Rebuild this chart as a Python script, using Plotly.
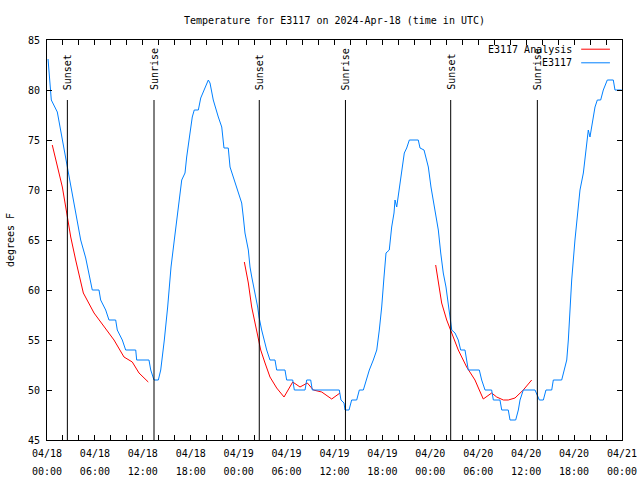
import plotly.graph_objects as go
import pandas as pd

base = pd.Timestamp("2024-04-18 00:00")

# Observed (E3117): hours since 2024-04-18 00:00 UTC, degrees F
obs_hours = [0.13, 0.38, 0.54, 1.29, 1.92, 2.47, 3.17, 3.79, 4.22, 4.85, 5.26, 5.67, 6.51, 6.72,
             7.35, 7.76, 8.60, 8.80, 9.43, 9.85, 11.11, 11.23, 12.77, 12.99, 13.40, 13.94, 14.24,
             14.40, 14.69, 15.11, 15.53, 15.94, 16.37, 16.87, 17.28, 17.49, 17.91, 18.19, 18.44,
             18.95, 19.25, 19.78, 20.20, 20.41, 20.82, 21.45, 21.88, 22.16, 22.70, 22.92, 23.54,
             23.95, 24.38, 24.58, 24.79, 25.21, 25.42, 25.64, 26.05, 26.38, 26.55, 26.88, 27.51,
             27.92, 28.55, 28.76, 29.80, 30.01, 30.77, 30.97, 32.31, 32.52, 33.02, 33.22, 36.60,
             36.81, 37.19, 37.32, 37.82, 38.15, 38.78, 39.11, 39.61, 39.94, 40.36, 40.86, 41.29,
             41.61, 41.91, 42.20, 42.45, 42.86, 43.16, 43.45, 43.58, 43.79, 43.91, 44.20, 44.54,
             44.74, 45.04, 45.37, 46.49, 46.71, 47.21, 47.46, 47.75, 48.08, 48.37, 48.71, 49.00,
             49.30, 49.62, 49.96, 50.30, 50.46, 50.68, 51.09, 51.50, 51.80, 52.34, 52.75, 54.13,
             54.43, 54.85, 55.68, 55.89, 56.72, 56.94, 57.76, 57.98, 58.69, 59.02, 59.23, 59.64,
             61.11, 61.40, 61.65, 62.15, 62.48, 63.20, 63.40, 64.45, 64.74, 65.08, 65.28, 65.49,
             65.70, 66.11, 66.53, 66.74, 67.16, 67.49, 67.78, 67.99, 68.21, 68.62, 68.91, 69.33,
             69.66, 70.16, 70.91, 71.12, 71.96]
obs_temp = [83.1, 80.0, 79.0, 77.8, 75.0, 72.7, 69.3, 66.7, 65.0, 63.2, 61.7, 60.0, 60.0, 59.0,
            58.0, 57.0, 57.0, 56.0, 55.0, 54.0, 54.0, 53.0, 53.0, 52.0, 51.0, 51.0, 52.0,
            53.0, 55.0, 58.3, 62.3, 65.0, 67.7, 71.0, 71.7, 73.3, 75.7, 77.3, 78.0,
            78.0, 79.2, 80.3, 81.0, 80.7, 79.0, 77.3, 76.3, 74.2, 74.2, 72.3, 70.7,
            69.7, 68.7, 67.3, 65.7, 64.0, 62.3, 61.3, 59.7, 58.3, 57.3, 56.0, 54.0,
            53.0, 53.0, 52.0, 52.0, 51.0, 51.0, 50.0, 50.0, 51.0, 51.0, 50.0, 50.0,
            49.0, 48.7, 48.0, 48.0, 49.0, 49.0, 50.0, 50.0, 51.0, 52.0, 53.0, 54.0,
            56.0, 58.3, 61.3, 63.7, 64.0, 66.3, 67.7, 69.0, 68.3, 69.0, 70.7, 72.3,
            73.7, 74.2, 75.0, 75.0, 74.2, 74.0, 73.2, 72.3, 70.3, 69.0, 67.7, 66.0,
            63.7, 61.7, 60.3, 58.3, 57.0, 56.0, 55.7, 55.0, 54.0, 54.0, 52.0, 52.0,
            51.0, 50.0, 50.0, 49.0, 49.0, 48.0, 48.0, 47.0, 47.0, 48.0, 49.0, 50.0,
            50.0, 49.5, 49.0, 49.0, 50.0, 50.0, 51.0, 51.0, 52.0, 53.0, 55.0, 58.0,
            61.0, 65.0, 68.3, 70.0, 71.7, 74.3, 76.0, 75.3, 76.3, 78.3, 79.0, 79.0,
            80.0, 81.0, 81.0, 80.0, 80.0]

# Analysis (E3117 Analysis): three nightly segments, None = gap
ana_hours = [0.66, 1.50, 1.92, 2.47, 2.97, 3.59, 4.55, 5.89, 7.14, 8.39, 9.64, 10.68, 11.52, 12.68,
             None,
             24.71, 25.21, 25.63, 26.26, 26.76, 27.30, 27.92, 28.76, 29.68, 30.77, 31.68, 32.60,
             33.35, 34.40, 35.65, 36.69,
             None,
             48.67, 49.00, 49.42, 50.05, 50.68, 51.50, 52.55, 53.59, 54.13, 54.63, 55.68, 56.31,
             57.14, 57.76, 58.60, 59.64, 60.69]
ana_temp = [74.5, 71.7, 70.3, 67.7, 65.3, 63.0, 59.7, 57.7, 56.3, 55.0, 53.3, 52.8, 51.7, 50.8,
            None,
            62.8, 60.7, 58.3, 55.7, 54.0, 52.7, 51.3, 50.2, 49.3, 50.8, 50.3, 50.7,
            50.0, 49.8, 49.1, 49.7,
            None,
            62.5, 60.7, 58.7, 57.0, 55.7, 54.0, 52.3, 51.0, 50.0, 49.1, 49.7, 49.3,
            49.0, 49.0, 49.2, 50.0, 51.0]

sun_hours = [2.55, 13.40, 26.58, 37.37, 50.55, 61.40]
sun_labels = ["Sunset", "Sunrise", "Sunset", "Sunrise", "Sunset", "Sunrise"]
sun_line_top = 79.0
sun_label_base = 79.8

tick_step_hours = 2
label_every_hours = 6
y_ticks = [45, 50, 55, 60, 65, 70, 75, 80, 85]

title_text = "Temperature for E3117 on 2024-Apr-18 (time in UTC)"
series_names = ["E3117 Analysis", "E3117"]
series_colors = ["#ff0000", "#0080ff"]


def to_time(hours):
    return [None if h is None else base + pd.Timedelta(hours=h) for h in hours]


FONT = "DejaVu Sans Mono"
TF = dict(family=FONT, size=10, color="black")

fig = go.Figure()
fig.add_trace(go.Scatter(x=to_time(ana_hours), y=ana_temp, mode="lines", name=series_names[0],
                         line=dict(color=series_colors[0], width=1), connectgaps=False,
                         showlegend=False))
fig.add_trace(go.Scatter(x=to_time(obs_hours), y=obs_temp, mode="lines", name=series_names[1],
                         line=dict(color=series_colors[1], width=1), showlegend=False))

# Sunrise / sunset markers
for h, lab in zip(sun_hours, sun_labels):
    t = base + pd.Timedelta(hours=h)
    fig.add_shape(type="line", x0=t, x1=t, y0=45, y1=sun_line_top, xref="x", yref="y",
                  line=dict(color="black", width=1))
    fig.add_annotation(x=t, y=sun_label_base, xref="x", yref="y", text=lab, textangle=-90,
                       showarrow=False, xanchor="center", yanchor="bottom", font=TF)

# Ticks: every 2 h, labels every 6 h (date line on x, time line on x2)
tickvals, date_text, time_text = [], [], []
for k in range(0, 72 + 1, tick_step_hours):
    t = base + pd.Timedelta(hours=k)
    tickvals.append(t)
    lab = k % label_every_hours == 0
    date_text.append(t.strftime("%m/%d") if lab else "")
    time_text.append(t.strftime("%H:%M") if lab else "")

# Legend (gnuplot style: text left, sample right)
legend_rows = [0.977, 0.943]
for name, col, yy in zip(series_names, series_colors, legend_rows):
    fig.add_annotation(x=0.9165, y=yy, xref="paper", yref="paper", text=name, showarrow=False,
                       xanchor="right", yanchor="middle", font=TF)
    fig.add_shape(type="line", x0=0.929, x1=0.979, y0=yy, y1=yy, xref="paper", yref="paper",
                  line=dict(color=col, width=1))

fig.update_layout(
    width=640, height=480,
    margin=dict(l=47, r=18, t=40, b=40, autoexpand=False),
    paper_bgcolor="white", plot_bgcolor="white",
    font=TF,
    title=dict(text=title_text, x=0.5, xref="paper", y=1 - 20 / 480, yref="container",
               xanchor="center", yanchor="middle", font=TF),
    showlegend=False,
    xaxis=dict(
        range=[base, base + pd.Timedelta(hours=72)],
        tickmode="array", tickvals=tickvals, ticktext=date_text,
        ticks="inside", ticklen=5, tickcolor="black", tickwidth=1,
        showline=True, linecolor="black", linewidth=1, mirror="ticks",
        showgrid=False, zeroline=False, tickangle=0, automargin=False,
        ticklabelstandoff=4, tickfont=TF,
    ),
    xaxis2=dict(
        overlaying="x", matches="x", anchor="y", side="bottom",
        range=[base, base + pd.Timedelta(hours=72)],
        tickmode="array", tickvals=tickvals, ticktext=time_text,
        ticks="", showline=False, showgrid=False, zeroline=False, tickangle=0,
        automargin=False, ticklabelstandoff=24, tickfont=TF,
    ),
    yaxis=dict(
        range=[45, 85], tickmode="array", tickvals=y_ticks,
        ticks="inside", ticklen=5, tickcolor="black", tickwidth=1,
        showline=True, linecolor="black", linewidth=1, mirror="ticks",
        showgrid=False, zeroline=False, automargin=False,
        ticklabelstandoff=4, tickfont=TF,
        title=dict(text="degrees F", standoff=11, font=TF),
    ),
)
# invisible carrier so xaxis2 renders its labels
fig.add_trace(go.Scatter(x=[tickvals[0]], y=[None], xaxis="x2", yaxis="y", mode="lines",
                         showlegend=False, hoverinfo="skip"))

fig.write_html("out.html", config={"displayModeBar": False},
               post_script="document.body.style.margin='0';")
